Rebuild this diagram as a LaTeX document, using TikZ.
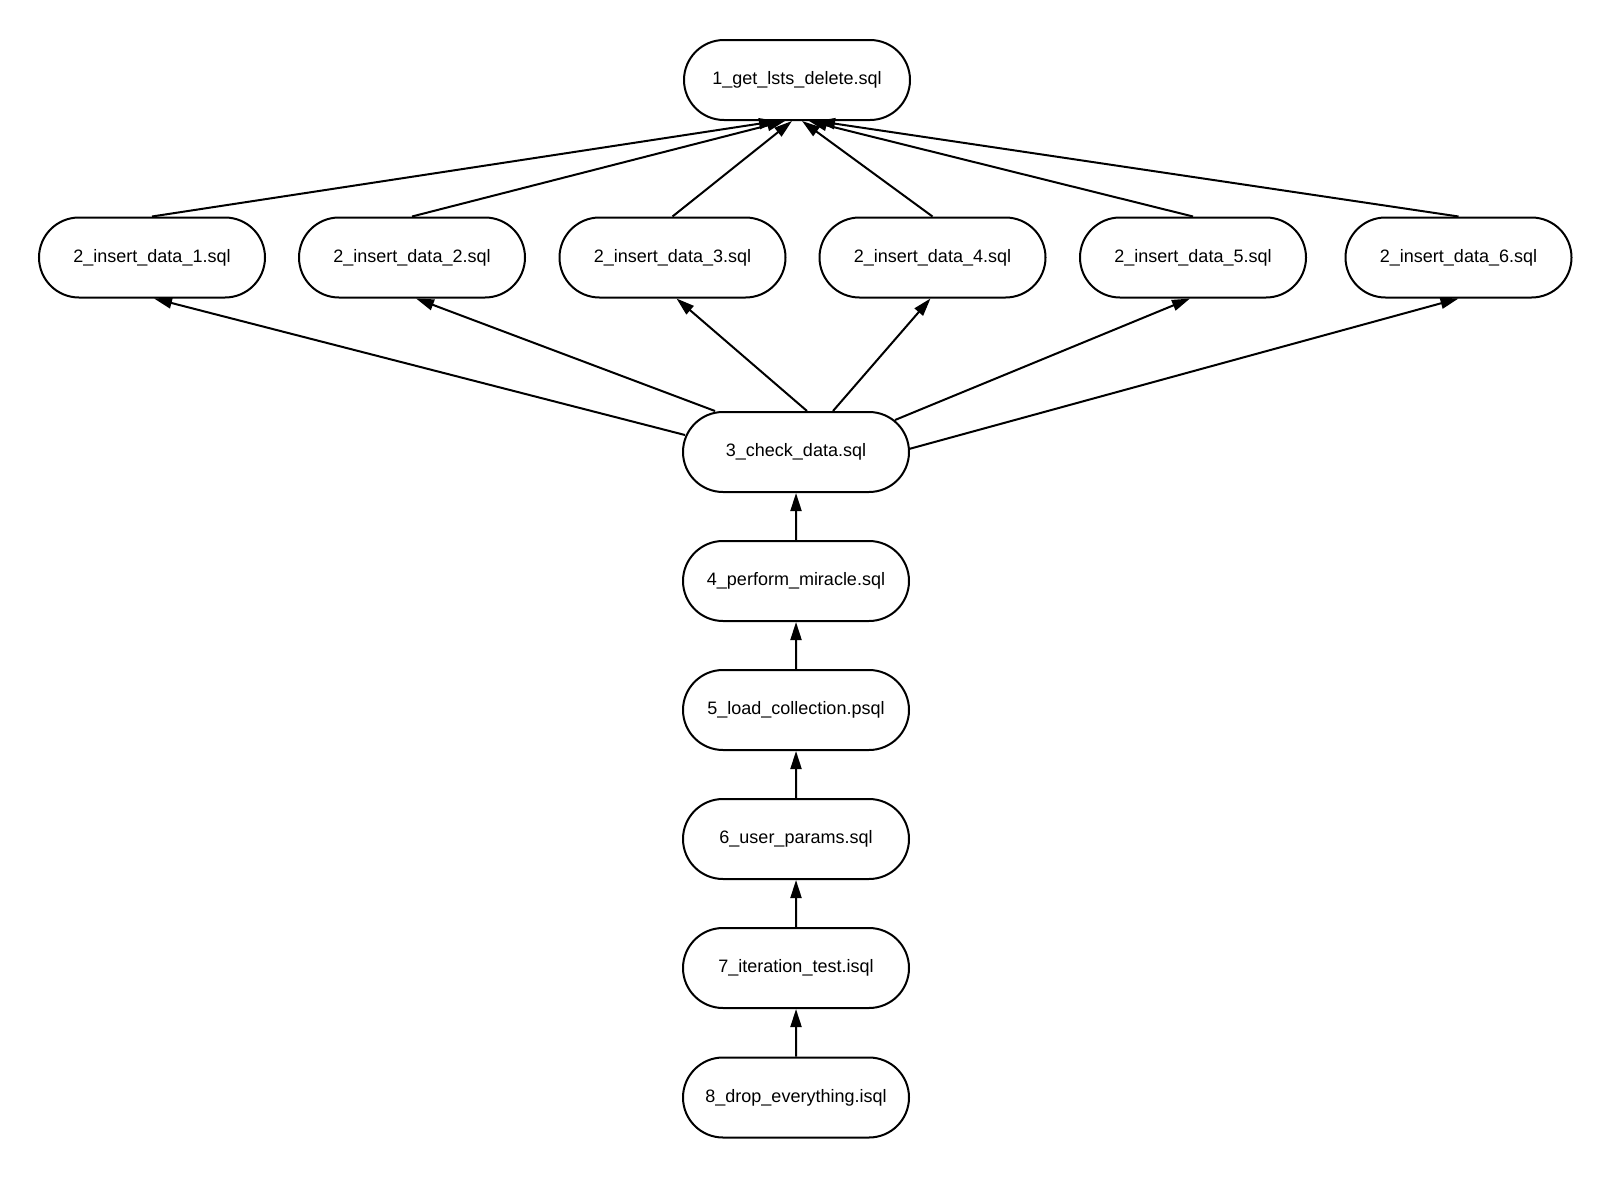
\documentclass[tikz,border=0pt]{standalone}
\usepackage{fontspec}
\setmainfont{Liberation Sans}
\usetikzlibrary{shapes.misc,arrows.meta,calc}
\begin{document}
\begin{tikzpicture}[x=0.5pt,y=-0.5pt,
  sqlnode/.style={rounded rectangle,draw,line width=1pt,minimum width=113pt,minimum height=40pt,inner sep=0pt,font=\fontsize{9}{11}\selectfont},
  dep/.style={line width=1pt,-{Triangle[length=9pt,width=5.5pt]}}]
\useasboundingbox (0,0) rectangle (1612,1178);
\node[sqlnode] (n1) at (797,80) {1\_get\_lsts\_delete.sql};
\node[sqlnode] (a1) at (152,257.5) {2\_insert\_data\_1.sql};
\node[sqlnode] (a2) at (412,257.5) {2\_insert\_data\_2.sql};
\node[sqlnode] (a3) at (672.5,257.5) {2\_insert\_data\_3.sql};
\node[sqlnode] (a4) at (932.5,257.5) {2\_insert\_data\_4.sql};
\node[sqlnode] (a5) at (1193,257.5) {2\_insert\_data\_5.sql};
\node[sqlnode] (a6) at (1458.5,257.5) {2\_insert\_data\_6.sql};
\node[sqlnode] (n3) at (796,452) {3\_check\_data.sql};
\node[sqlnode] (n4) at (796,581) {4\_perform\_miracle.sql};
\node[sqlnode] (n5) at (796,710) {5\_load\_collection.psql};
\node[sqlnode] (n6) at (796,839) {6\_user\_params.sql};
\node[sqlnode] (n7) at (796,968) {7\_iteration\_test.isql};
\node[sqlnode] (n8) at (796,1097.5) {8\_drop\_everything.isql};
% row 2 -> 1
\draw[dep] (a1.north) -- ($(n1.south)+(-20,0)$);
\draw[dep] (a2.north) -- ($(n1.south)+(-12,0)$);
\draw[dep] (a3.north) -- ($(n1.south)+(-5,0)$);
\draw[dep] (a4.north) -- ($(n1.south)+(5,0)$);
\draw[dep] (a5.north) -- ($(n1.south)+(12,0)$);
\draw[dep] (a6.north) -- ($(n1.south)+(20,0)$);
% 3 -> row 2
\draw[dep] ($(n3.center)+(-111,-17)$) -- ($(a1.south)+(2,0)$);
\draw[dep] ($(n3.north)+(-81,0)$) -- ($(a2.south)+(4,0)$);
\draw[dep] ($(n3.north)+(11,0)$) -- ($(a3.south)+(4,0)$);
\draw[dep] ($(n3.north)+(37,0)$) -- ($(a4.south)+(-2,0)$);
\draw[dep] ($(n3.center)+(99,-32)$) -- ($(a5.south)+(-3,0)$);
\draw[dep] ($(n3.center)+(113,-3)$) -- (a6.south);
% chain
\draw[dep] (n4) -- (n3);
\draw[dep] (n5) -- (n4);
\draw[dep] (n6) -- (n5);
\draw[dep] (n7) -- (n6);
\draw[dep] (n8) -- (n7);
\end{tikzpicture}
\end{document}
